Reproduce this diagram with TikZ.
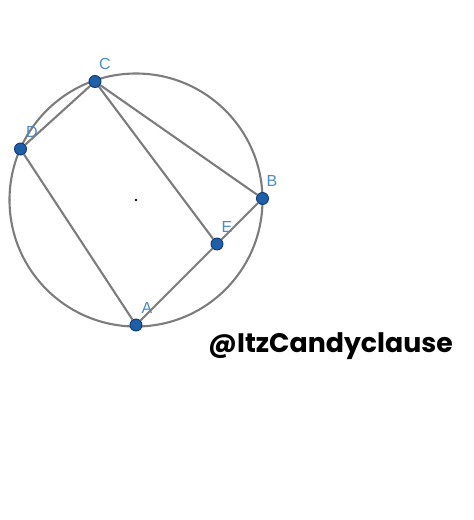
\documentclass[tikz,border=0pt]{standalone}
\usepackage{fontspec}
\setsansfont{Liberation Sans}
\newfontfamily\tagfont{Poppins}
\usetikzlibrary{calc}

\definecolor{seggray}{HTML}{7C7C7C}
\definecolor{ptfill}{HTML}{1F5FA8}
\definecolor{ptedge}{HTML}{0E3A70}
\definecolor{lblblue}{HTML}{4D8AC8}

\tikzset{
	pt/.style={circle, draw=ptedge, fill=ptfill, line width=0.9pt, inner sep=0pt, minimum size=12pt},
	cdot/.style={circle, fill=black, inner sep=0pt, minimum size=2.8pt},
	lbl/.style={text=lblblue, font=\sffamily\fontsize{16}{16}\selectfont, inner sep=0pt},
	seg/.style={draw=seggray, line width=2.1pt},
}

\begin{document}
\begin{tikzpicture}[x=1pt, y=-1pt]
		\useasboundingbox (0,0) rectangle (474,520);

		% Circle
		\node[cdot] (o) at (136,200) {};
		\draw[seg] (o) circle[radius=126.5pt];

		% Points
		\node[pt] (C) at (95,81.5) {};
		\node[lbl] (lC) at (105,64) {C};
		\node[pt] (D) at (20.5,149) {};
		\node[lbl] (lD) at (32,132) {D};
		\node[pt] (B) at (262.5,198.5) {};
		\node[lbl] (lB) at (272,181) {B};
		\node[pt] (E) at (217,244) {};
		\node[lbl] (lE) at (227,227) {E};
		\node[pt] (A) at (136,325) {};
		\node[lbl] (lA) at (147,308) {A};

		% Connections
		\draw[seg] (C) -- (D);
		\draw[seg] (D) -- (A);
		\draw[seg] (A) -- (E);
		\draw[seg] (E) -- (B);
		\draw[seg] (C) -- (B);
		\draw[seg] (C) -- (E);

		% Tag
		\node[font=\tagfont\bfseries\fontsize{26.8}{27}\selectfont, inner sep=0pt] (tag) at (330.5,346) {@ItzCandyclause};

	\end{tikzpicture}
\end{document}
